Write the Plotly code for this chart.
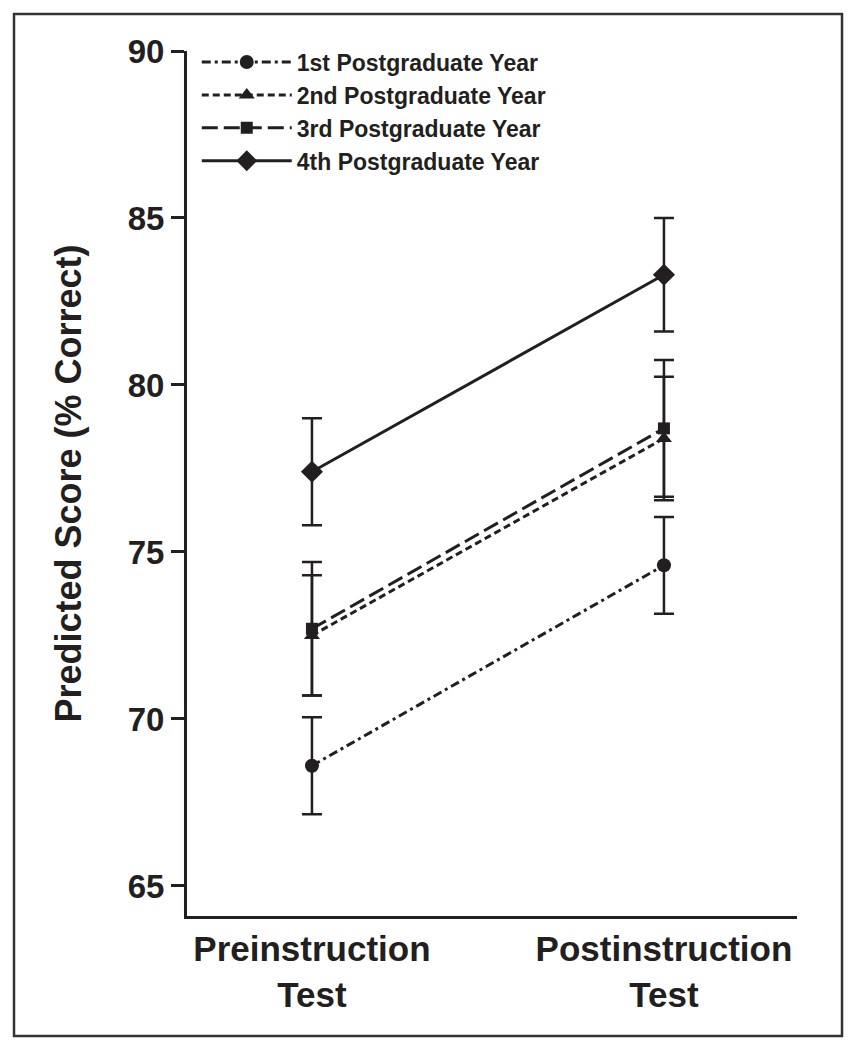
import plotly.graph_objects as go

# ---- data ----
categories = ["Preinstruction<br>Test", "Postinstruction<br>Test"]
series_names = ["1st Postgraduate Year", "2nd Postgraduate Year",
                "3rd Postgraduate Year", "4th Postgraduate Year"]
pgy1 = [68.6, 74.6]
pgy1_err = [1.45, 1.45]
pgy2 = [72.5, 78.4]
pgy2_err = [1.8, 1.85]
pgy3 = [72.7, 78.7]
pgy3_err = [2.0, 2.05]
pgy4 = [77.4, 83.3]
pgy4_err = [1.6, 1.7]
y_ticks = [65, 70, 75, 80, 85, 90]

INK = "#231f20"
FONT = "Liberation Sans"

x_pos = list(range(len(categories)))

styles = [
    dict(dash="9px,4px,3px,4px", symbol="circle", size=14),
    dict(dash="7px,4px", symbol="triangle-up", size=14),
    dict(dash="16px,6px", symbol="square", size=12),
    dict(dash="solid", symbol="diamond", size=17),
]
values = [pgy1, pgy2, pgy3, pgy4]
errors = [pgy1_err, pgy2_err, pgy3_err, pgy4_err]

fig = go.Figure()
for name, vals, errs, st in zip(series_names, values, errors, styles):
    fig.add_trace(go.Scatter(
        x=x_pos, y=vals, name=name, mode="lines+markers",
        line=dict(color=INK, width=3, dash=st["dash"]),
        marker=dict(color=INK, symbol=st["symbol"], size=st["size"]),
        error_y=dict(type="data", array=errs, visible=True,
                     color=INK, thickness=2.5, width=10),
    ))

# outer frame (paper coords relative to plot area)
fig.add_shape(type="rect", xref="paper", yref="paper",
              x0=-0.2836, x1=1.0738, y0=-0.1387, y1=1.0428,
              line=dict(color="#333333", width=2.5), layer="below")

fig.update_layout(
    width=842, height=1034,
    margin=dict(l=179, r=53, t=43, b=126),
    paper_bgcolor="white", plot_bgcolor="white",
    font=dict(family=FONT, color=INK, weight="bold"),
    showlegend=True,
    legend=dict(x=0.016, y=1.012, xanchor="left", yanchor="top",
                bgcolor="rgba(0,0,0,0)", font=dict(size=23, family=FONT, weight="bold"),
                itemwidth=90, tracegroupgap=0),
    xaxis=dict(range=[-0.355, 1.378], tickvals=x_pos, ticktext=categories,
               showline=True, linecolor=INK, linewidth=3, ticks="",
               showgrid=False, zeroline=False,
               tickfont=dict(size=35, family=FONT, weight="bold")),
    yaxis=dict(range=[64.1, 90], tickvals=y_ticks, ticks="outside", ticklen=13,
               tickwidth=2.5, tickcolor=INK, showline=True, linecolor=INK,
               linewidth=3, showgrid=False, zeroline=False,
               tickfont=dict(size=33, family=FONT, weight="bold"),
               title=dict(text="Predicted Score (% Correct)", standoff=36,
                          font=dict(size=36, family=FONT, weight="bold"))),
)

fig.write_html("out.html")
